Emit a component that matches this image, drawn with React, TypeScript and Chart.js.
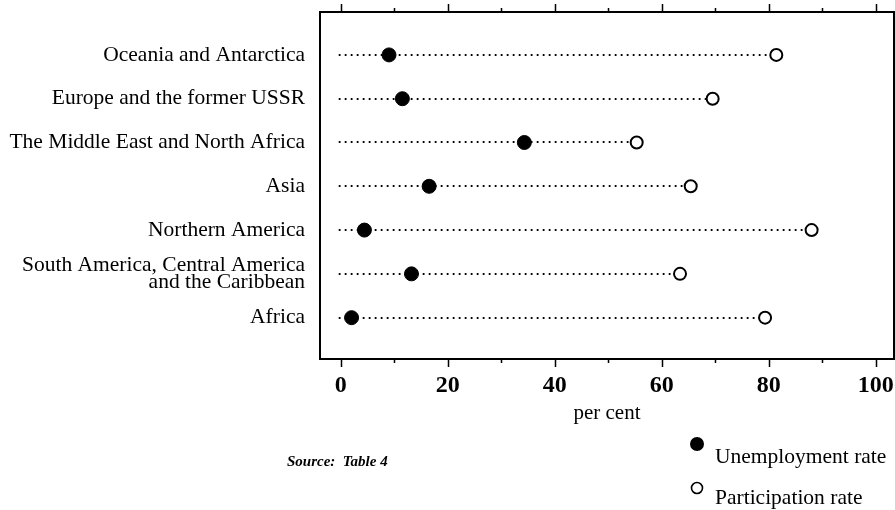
import { useEffect, useRef } from "react";
import { Chart, registerables } from "chart.js";

Chart.register(...registerables);

// ---- data ----
const categories: (string | string[])[] = [
  "Oceania and Antarctica",
  "Europe and the former USSR",
  "The Middle East and North Africa",
  "Asia",
  "Northern America",
  ["South America, Central America", "and the Caribbean"],
  "Africa",
];
const unemployment = [9.0, 11.5, 34.3, 16.5, 4.4, 13.2, 2.0];
const participation = [81.4, 69.5, 55.3, 65.4, 88.0, 63.4, 79.3];
const majorTicks = [0, 20, 40, 60, 80, 100];
const minorTicks = [10, 30, 50, 70, 90];
const axisTitle = "per cent";
const sourceNote = "Source:  Table 4";
const seriesNames = ["Unemployment rate", "Participation rate"];

const SERIF = "'Liberation Serif', 'Times New Roman', serif";
const rowValue = (i: number) => categories.length - 1 - i;

const framePlugin = {
  id: "frame",
  beforeDatasetsDraw(chart: any) {
    const { ctx, scales } = chart;
    const x = scales.x;
    const y = scales.y;
    ctx.save();
    ctx.strokeStyle = "#000";
    ctx.lineWidth = 1.8;
    ctx.setLineDash([1.8, 4.2]);
    participation.forEach((p, i) => {
      const py = Math.round(y.getPixelForValue(rowValue(i)));
      ctx.beginPath();
      ctx.moveTo(x.getPixelForValue(-0.4), py);
      ctx.lineTo(x.getPixelForValue(p), py);
      ctx.stroke();
    });
    ctx.restore();
  },
  afterDraw(chart: any) {
    const { ctx, chartArea: a, scales } = chart;
    const x = scales.x;
    ctx.save();
    ctx.strokeStyle = "#000";
    ctx.lineWidth = 2;
    ctx.setLineDash([]);
    ctx.strokeRect(a.left, a.top, a.right - a.left, a.bottom - a.top);
    // tick marks (top and bottom, outward)
    const drawTick = (v: number, len: number) => {
      const px = Math.round(x.getPixelForValue(v)) + 0.5;
      ctx.beginPath();
      ctx.moveTo(px, a.bottom);
      ctx.lineTo(px, a.bottom + len);
      ctx.moveTo(px, a.top);
      ctx.lineTo(px, a.top - len);
      ctx.stroke();
    };
    ctx.lineWidth = 1.5;
    majorTicks.forEach((v) => drawTick(v, 8));
    minorTicks.forEach((v) => drawTick(v, 4));

    // source note
    ctx.fillStyle = "#000";
    ctx.textBaseline = "middle";
    ctx.textAlign = "left";
    ctx.font = `italic bold 15px ${SERIF}`;
    ctx.fillText(sourceNote, 287, 462);

    // legend
    ctx.beginPath();
    ctx.arc(697, 444, 7, 0, Math.PI * 2);
    ctx.fill();
    ctx.font = `21.5px ${SERIF}`;
    ctx.fillText(seriesNames[0], 715, 457);
    ctx.beginPath();
    ctx.lineWidth = 1.6;
    ctx.arc(697, 488, 5.5, 0, Math.PI * 2);
    ctx.fillStyle = "#fff";
    ctx.fill();
    ctx.stroke();
    ctx.fillStyle = "#000";
    ctx.fillText(seriesNames[1], 715, 498);
    ctx.restore();
  },
};

export default function App() {
  const ref = useRef<HTMLCanvasElement>(null);

  useEffect(() => {
    if (!ref.current) return;
    const chart = new Chart(ref.current, {
      type: "scatter",
      data: {
        datasets: [
          {
            label: seriesNames[0],
            data: unemployment.map((v, i) => ({ x: v, y: rowValue(i) })),
            backgroundColor: "#000",
            borderColor: "#000",
            borderWidth: 1,
            pointRadius: 7,
          },
          {
            label: seriesNames[1],
            data: participation.map((v, i) => ({ x: v, y: rowValue(i) })),
            backgroundColor: "#fff",
            borderColor: "#000",
            borderWidth: 2,
            pointRadius: 6,
          },
        ],
      },
      options: {
        responsive: false,
        animation: false,
        devicePixelRatio: 1,
        layout: { autoPadding: false, padding: { left: 0, right: 1, top: 12, bottom: 0 } },
        plugins: {
          legend: { display: false },
          tooltip: { enabled: false },
        },
        scales: {
          x: {
            type: "linear",
            min: -3.9,
            max: 103.4,
            grid: { display: false, drawTicks: false },
            border: { display: false },
            afterBuildTicks: (axis: any) => {
              axis.ticks = majorTicks.map((v) => ({ value: v }));
            },
            afterFit: (axis: any) => {
              axis.height = 151;
              axis.paddingLeft = 0;
              axis.paddingRight = 0;
            },
            ticks: {
              padding: 12,
              color: "#000",
              font: { family: SERIF, size: 24, weight: "bold" },
              callback: (v: any) => String(v),
            },
            title: {
              display: true,
              text: axisTitle,
              color: "#000",
              font: { family: SERIF, size: 21 },
              padding: { top: 4, bottom: 84 },
            },
          },
          y: {
            type: "linear",
            min: -0.944,
            max: 6.98,
            grid: { display: false, drawTicks: false },
            border: { display: false },
            afterBuildTicks: (axis: any) => {
              axis.ticks = categories.map((_, i) => ({ value: rowValue(i) }));
            },
            afterFit: (axis: any) => {
              axis.width = 320;
              axis.paddingTop = 0;
              axis.paddingBottom = 0;
            },
            ticks: {
              padding: 15,
              color: "#000",
              font: { family: SERIF, size: 21.5, lineHeight: 0.8 },
              callback: (v: any) => categories[categories.length - 1 - Number(v)],
            },
          },
        },
      },
      plugins: [framePlugin],
    });
    return () => chart.destroy();
  }, []);

  return (
    <div style={{ position: "absolute", left: 0, top: 0, width: 895, height: 510, background: "#fff" }}>
      <canvas ref={ref} width={895} height={510} style={{ display: "block" }} />
    </div>
  );
}
